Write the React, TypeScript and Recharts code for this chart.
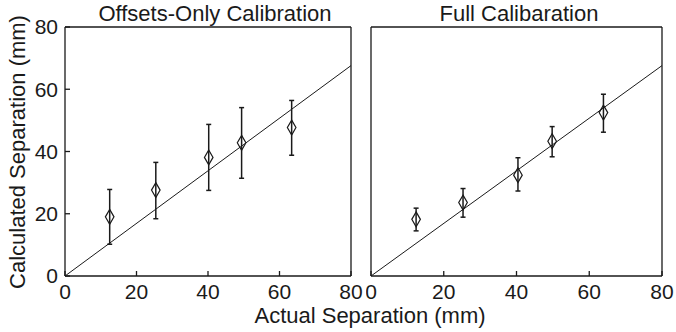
import {
  ScatterChart,
  Scatter,
  XAxis,
  YAxis,
  ZAxis,
  ErrorBar,
  ReferenceLine,
} from "recharts";

// values (mm)
const xLeft = [12.5, 25.4, 40.2, 49.4, 63.4];
const yLeft = [19.0, 27.6, 38.1, 42.8, 47.7];
const lowLeft = [10.2, 18.4, 27.5, 31.4, 38.8];
const highLeft = [27.8, 36.5, 48.7, 54.1, 56.4];

const xRight = [12.4, 25.3, 40.4, 49.8, 63.9];
const yRight = [18.2, 23.6, 32.4, 43.3, 52.5];
const lowRight = [14.5, 18.9, 27.3, 38.3, 46.2];
const highRight = [21.8, 28.1, 38.0, 48.0, 58.4];

const fitLine = [
  { x: 0, y: 0 },
  { x: 80, y: 67.6 },
];

const ticks = [0, 20, 40, 60, 80];
const titles = ["Offsets-Only Calibration", "Full Calibaration"];
const xLabel = "Actual Separation (mm)";
const yLabel = "Calculated Separation (mm)";

const INK = "#1a1a1a";
const FONT = "'Liberation Sans', Arial, Helvetica, sans-serif";

const build = (xs: number[], ys: number[], lo: number[], hi: number[]) =>
  xs.map((x, i) => ({ x, y: ys[i], err: [ys[i] - lo[i], hi[i] - ys[i]] }));

const tickStyle = { fontSize: 21, fill: INK, fontFamily: FONT };

function Panel({
  data,
  width,
  margin,
  showLabels,
  yWidth,
}: {
  data: { x: number; y: number; err: number[] }[];
  width: number;
  margin: { top: number; right: number; bottom: number; left: number };
  showLabels: boolean;
  yWidth: number;
}) {
  return (
    <ScatterChart width={width} height={332} margin={margin}>
      <XAxis
        xAxisId="b"
        dataKey="x"
        type="number"
        domain={[0, 80]}
        ticks={ticks}
        height={30}
        tickSize={-5}
        tickMargin={13}
        stroke={INK}
        strokeWidth={1.3}
        tick={tickStyle}
        interval={0}
      />
      <XAxis
        xAxisId="t"
        orientation="top"
        type="number"
        domain={[0, 80]}
        ticks={ticks}
        height={1}
        tickSize={-5}
        stroke={INK}
        strokeWidth={1.3}
        tick={false}
        interval={0}
      />
      <YAxis
        yAxisId="l"
        dataKey="y"
        type="number"
        domain={[0, 80]}
        ticks={ticks}
        width={yWidth}
        tickSize={-5}
        tickMargin={12}
        stroke={INK}
        strokeWidth={1.3}
        tick={showLabels ? tickStyle : false}
        interval={0}
      />
      <YAxis
        yAxisId="r"
        orientation="right"
        type="number"
        domain={[0, 80]}
        ticks={ticks}
        width={1}
        tickSize={-5}
        stroke={INK}
        strokeWidth={1.3}
        tick={false}
        interval={0}
      />
      <ZAxis range={[100, 100]} />
      <ReferenceLine
        xAxisId="b"
        yAxisId="l"
        segment={fitLine}
        stroke={INK}
        strokeWidth={1}
        ifOverflow="visible"
      />
      <Scatter
        xAxisId="b"
        yAxisId="l"
        data={data}
        shape="diamond"
        fill="none"
        stroke={INK}
        strokeWidth={1.2}
        isAnimationActive={false}
      >
        <ErrorBar
          dataKey="err"
          direction="y"
          width={2.5}
          stroke={INK}
          strokeWidth={1.5}
        />
      </Scatter>
    </ScatterChart>
  );
}

export default function App() {
  const left = build(xLeft, yLeft, lowLeft, highLeft);
  const right = build(xRight, yRight, lowRight, highRight);
  return (
    <div
      style={{
        position: "absolute",
        top: 0,
        left: 0,
        width: 676,
        height: 332,
        background: "#fff",
        fontFamily: FONT,
      }}
    >
      <div style={{ position: "absolute", left: 0, top: 0 }}>
        <Panel
          data={left}
          width={366}
          margin={{ top: 26, right: 14, bottom: 26, left: 25 }}
          showLabels
          yWidth={40}
        />
      </div>
      <div style={{ position: "absolute", left: 366, top: 0 }}>
        <Panel
          data={right}
          width={310}
          margin={{ top: 26, right: 13, bottom: 26, left: 4 }}
          showLabels={false}
          yWidth={1}
        />
      </div>
      <svg
        width={676}
        height={332}
        style={{ position: "absolute", left: 0, top: 0, pointerEvents: "none" }}
      >
        <g fontFamily={FONT} fontSize={22} fill={INK} textAnchor="middle">
          <text x={215} y={21}>
            {titles[0]}
          </text>
          <text x={519} y={21}>
            {titles[1]}
          </text>
          <text x={370} y={323}>
            {xLabel}
          </text>
          <text x={25} y={152} transform="rotate(-90 25 152)">
            {yLabel}
          </text>
        </g>
      </svg>
    </div>
  );
}
